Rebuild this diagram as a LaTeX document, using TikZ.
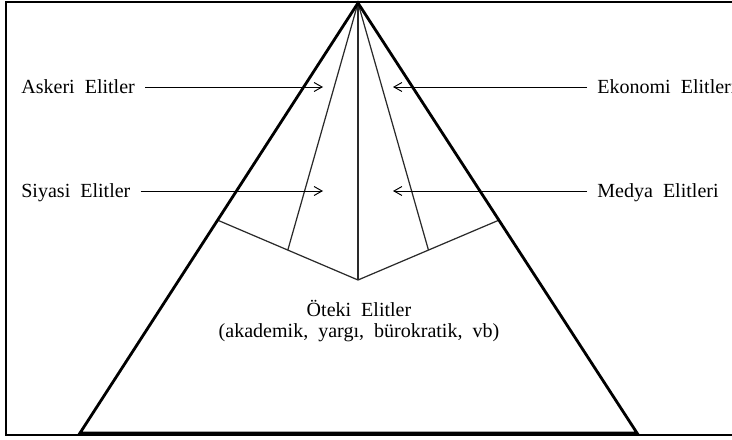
\documentclass[tikz,border=0pt]{standalone}
\usepackage{fontspec}
\setmainfont{Liberation Serif}
\usetikzlibrary{arrows.meta,calc}
\definecolor{ink}{HTML}{000000}
\definecolor{rule}{HTML}{2A2A2A}
\newcommand{\elitefont}{\fontsize{11.4}{11.9}\selectfont\spaceskip=0.5em\relax}
\tikzset{
  frame/.style={draw=ink,line width=1.5pt},
  edge/.style={draw=ink,line width=1.6pt,line join=miter},
  divider/.style={draw=rule,line width=0.7pt},
  pointer/.style={-{Straight Barb[length=1.6mm,width=1.8mm]},draw=ink,line width=0.55pt,shorten <=2mm},
  elite/.style={font=\elitefont,text=ink,inner sep=0pt,text height=7.5pt,text depth=0pt},
}

\begin{document}
\begin{tikzpicture}[x=0.02cm,y=-0.02cm]
  \useasboundingbox (0,0) rectangle (732,439);

  % frame is open on the right: the page cuts it there
  \draw[frame] (740,2) -- (6,2) -- (6,435) -- (740,435);

  \coordinate (apex) at (358,3);
  \coordinate (bl) at (80,433);
  \coordinate (br) at (637,433);
  \coordinate (vl) at ($(apex)!0.505!(bl)$);
  \coordinate (vr) at ($(apex)!0.505!(br)$);
  \coordinate (vc) at (358,280);
  \coordinate (ml) at ($(vl)!0.5!(vc)$);
  \coordinate (mr) at ($(vr)!0.5!(vc)$);

  \draw[divider] (vl) -- (vc) -- (vr);
  \draw[divider] (apex) -- (ml);
  \draw[divider] (apex) -- (vc);
  \draw[divider] (apex) -- (mr);
  \draw[edge] (apex) -- (bl) -- (br) -- cycle;

  \node[elite,anchor=west] (askeri) at (21,87) {Askeri Elitler};
  \node[elite,anchor=west] (siyasi) at (21,191) {Siyasi Elitler};
  \node[elite,anchor=west] (ekonomi) at (597,87) {Ekonomi Elitleri};
  \node[elite,anchor=west] (medya) at (597,191) {Medya Elitleri};

  \coordinate (askeri end) at (323,87);
  \coordinate (siyasi end) at (323,191);
  \coordinate (ekonomi end) at (393,87);
  \coordinate (medya end) at (393,191);

  \draw[pointer] (askeri) -- (askeri end);
  \draw[pointer] (siyasi) -- (siyasi end);
  \draw[pointer] (ekonomi) -- (ekonomi end);
  \draw[pointer] (medya) -- (medya end);

  \node[font=\elitefont,text=ink,align=center,inner sep=0pt] (oteki) at (359,321)
    {Öteki Elitler\\(akademik, yargı, bürokratik, vb)};
\end{tikzpicture}
\end{document}
